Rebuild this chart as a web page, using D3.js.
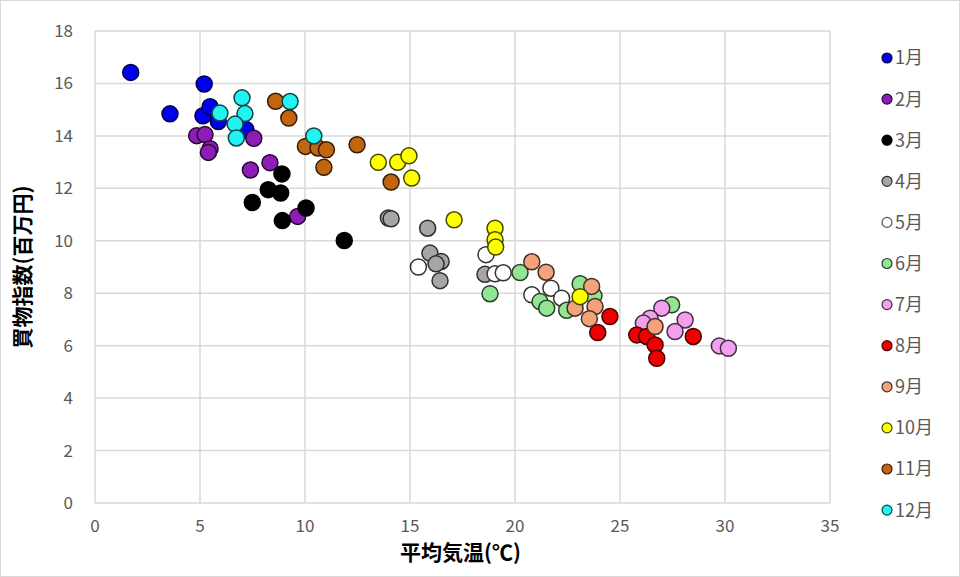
<!DOCTYPE html>
<html>
<head>
<meta charset="utf-8">
<script src="https://cdn.jsdelivr.net/npm/d3@7"></script>
<style>
  body { margin: 0; background: #fff; }
  text { font-family: "Noto Sans CJK JP", "Noto Sans", sans-serif; }
</style>
</head>
<body>
<div id="chart"></div>
<script>
// months, colours and the (temperature, index) readings for each month
const months = ["1月","2月","3月","4月","5月","6月","7月","8月","9月","10月","11月","12月"];
const monthColors = ["#0000f0","#8e1cb6","#000000","#a6a6a6","#ffffff","#92e592","#f2a0ee","#ee0000","#f4a27c","#ffff00","#c26410","#22f2f2"];

const temps = [
  [1.70, 5.20, 3.57, 5.14, 5.48, 5.87, 7.19],
  [4.84, 5.24, 5.48, 5.40, 7.56, 8.33, 7.40, 9.65],
  [8.90, 8.25, 8.84, 7.49, 8.92, 10.05, 11.87],
  [13.97, 14.10, 15.84, 15.95, 16.48, 16.24, 16.43, 18.57],
  [15.40, 18.62, 19.05, 19.44, 20.80, 21.71, 22.22],
  [20.24, 18.81, 21.19, 21.51, 22.46, 23.10, 23.76, 27.46],
  [26.99, 26.43, 26.11, 28.10, 27.62, 29.73, 30.16],
  [24.52, 23.94, 25.80, 26.27, 26.67, 26.75, 28.49],
  [20.80, 21.48, 23.65, 23.81, 23.54, 22.86, 26.67],
  [13.49, 14.41, 14.95, 15.08, 17.10, 19.05, 19.05, 19.08, 23.10],
  [8.60, 9.23, 10.02, 10.62, 11.02, 10.90, 12.48, 14.10],
  [7.00, 5.95, 7.14, 6.67, 6.73, 9.29, 10.42]
];
const sales = [
  [16.42, 15.98, 14.84, 14.77, 15.11, 14.55, 14.24],
  [14.01, 14.05, 13.51, 13.37, 13.91, 12.98, 12.70, 10.93],
  [12.55, 11.95, 11.82, 11.46, 10.77, 11.25, 10.01],
  [10.87, 10.84, 10.48, 9.53, 9.21, 9.12, 8.48, 8.72],
  [9.00, 9.47, 8.74, 8.78, 7.94, 8.19, 7.81],
  [8.79, 7.98, 7.68, 7.43, 7.35, 8.36, 7.90, 7.56],
  [7.43, 7.05, 6.86, 6.98, 6.54, 5.99, 5.90],
  [7.11, 6.50, 6.41, 6.35, 6.03, 5.52, 6.35],
  [9.20, 8.80, 8.26, 7.49, 7.03, 7.43, 6.73],
  [12.99, 12.99, 13.24, 12.39, 10.80, 10.48, 10.04, 9.76, 7.87],
  [15.32, 14.68, 13.60, 13.54, 13.47, 12.80, 13.66, 12.24],
  [15.45, 14.87, 14.85, 14.45, 13.92, 15.31, 14.00]
];
const xTicks = [0, 5, 10, 15, 20, 25, 30, 35];
const yTicks = [0, 2, 4, 6, 8, 10, 12, 14, 16, 18];

const width = 960, height = 577;
const margin = { left: 95, right: 130, top: 31, bottom: 74 };

const svg = d3.select("#chart").append("svg")
  .attr("width", width)
  .attr("height", height);

// outer chart border
svg.append("rect")
  .attr("x", 0.5).attr("y", 0.5)
  .attr("width", width - 1).attr("height", height - 1)
  .attr("fill", "#fff")
  .attr("stroke", "#d9d9d9");

const x = d3.scaleLinear().domain([0, 35]).range([margin.left, width - margin.right]);
const y = d3.scaleLinear().domain([0, 18]).range([height - margin.bottom, margin.top]);

// grid
svg.append("g")
  .selectAll("line.h")
  .data(yTicks)
  .join("line")
  .attr("x1", x(0)).attr("x2", x(35))
  .attr("y1", d => y(d)).attr("y2", d => y(d))
  .attr("stroke", "#d9d9d9")
  .attr("stroke-width", 1.5);

svg.append("g")
  .selectAll("line.v")
  .data(xTicks)
  .join("line")
  .attr("y1", y(0)).attr("y2", y(18))
  .attr("x1", d => x(d)).attr("x2", d => x(d))
  .attr("stroke", "#d9d9d9")
  .attr("stroke-width", 1.5);

// tick labels
svg.append("g")
  .selectAll("text")
  .data(yTicks)
  .join("text")
  .attr("x", 73)
  .attr("y", d => y(d))
  .attr("dy", "0.35em")
  .attr("text-anchor", "end")
  .style("font-size", "17px")
  .style("fill", "#595959")
  .text(d => d);

svg.append("g")
  .selectAll("text")
  .data(xTicks)
  .join("text")
  .attr("x", d => x(d))
  .attr("y", 532)
  .attr("text-anchor", "middle")
  .style("font-size", "17px")
  .style("fill", "#595959")
  .text(d => d);

// axis titles
svg.append("text")
  .attr("x", x(17.5) - 2)
  .attr("y", 560)
  .attr("text-anchor", "middle")
  .style("font-size", "21px")
  .style("font-weight", "bold")
  .style("fill", "#000")
  .text("平均気温(℃)");

svg.append("text")
  .attr("transform", `translate(30, ${y(9)}) rotate(-90)`)
  .attr("text-anchor", "middle")
  .style("font-size", "21px")
  .style("font-weight", "bold")
  .style("fill", "#000")
  .text("買物指数(百万円)");

const strokeOf = c => d3.interpolateRgb(c, "#000")(0.72);

// points, month by month so later months sit on top
months.forEach((m, i) => {
  const pts = temps[i].map((t, j) => ({ t, v: sales[i][j] }));
  svg.append("g")
    .selectAll("circle")
    .data(pts)
    .join("circle")
    .attr("cx", d => x(d.t))
    .attr("cy", d => y(d.v))
    .attr("r", 8)
    .attr("fill", monthColors[i])
    .attr("stroke", i === 4 ? "#333" : strokeOf(monthColors[i]))
    .attr("stroke-width", 1.5);
});

// legend
const legend = svg.append("g");
months.forEach((m, i) => {
  const ly = 58 + i * 41.1;
  legend.append("circle")
    .attr("cx", 887).attr("cy", ly)
    .attr("r", 5)
    .attr("fill", monthColors[i])
    .attr("stroke", i === 4 ? "#555" : strokeOf(monthColors[i]))
    .attr("stroke-width", 1.2);
  legend.append("text")
    .attr("x", 895).attr("y", ly)
    .attr("dy", "0.36em")
    .style("font-size", "18px")
    .style("fill", "#595959")
    .text(m);
});
</script>
</body>
</html>
